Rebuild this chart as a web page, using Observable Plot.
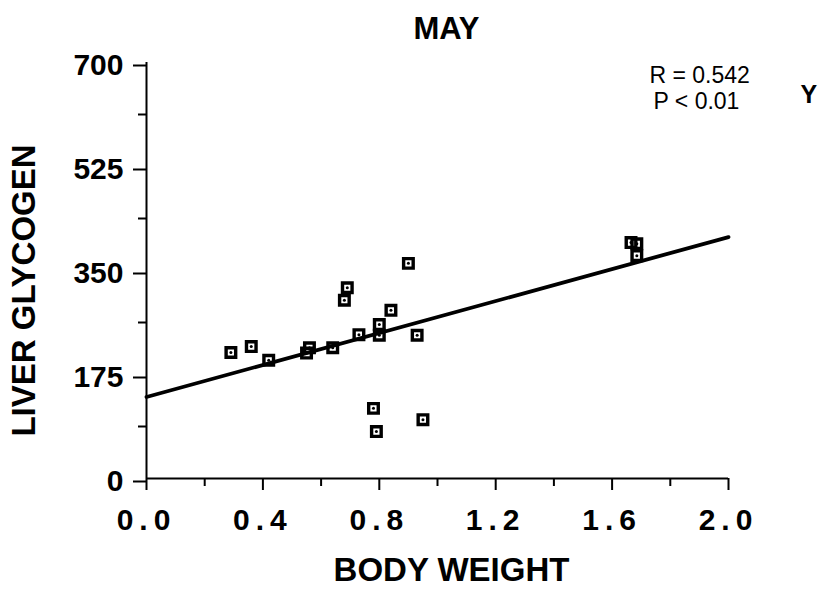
<!DOCTYPE html>
<html>
<head>
<meta charset="utf-8">
<script src="https://cdn.jsdelivr.net/npm/d3@7"></script>
<script src="https://cdn.jsdelivr.net/npm/@observablehq/plot@0.6"></script>
<style>
  html, body { margin: 0; padding: 0; background: #fff; }
  #chart { width: 823px; height: 590px; }
</style>
</head>
<body>
<div id="chart"></div>
<script>
// Body weight vs. liver glycogen, May sample
const bodyWeight    = [0.29, 0.36, 0.42, 0.56, 0.55, 0.64, 0.73, 0.80, 0.80, 0.84,
                       0.69, 0.68, 0.90, 0.93, 0.78, 0.79, 0.95, 1.665, 1.685, 1.685];
const liverGlycogen = [212, 222, 199, 220, 211, 220, 242, 259, 241, 283,
                       321, 300, 362, 241, 118, 79, 99, 397, 395, 375];

const xMajorTicks = [0, 0.4, 0.8, 1.2, 1.6, 2.0];
const xMinorTicks = [0.2, 0.6, 1.0, 1.4, 1.8];
const yMajorTicks = [0, 175, 350, 525, 700];
const yMinorTicks = [87.5, 262.5, 437.5, 612.5];

const xDomain = [0, 2];
const yDomain = [0, 700];

const title = "MAY";
const xTitle = "BODY WEIGHT";
const yTitle = "LIVER GLYCOGEN";
const statLines = ["R = 0.542", "P < 0.01"];
const panelTag = "Y";

const points = bodyWeight.map((x, i) => ({x, y: liverGlycogen[i]}));

// least-squares fit, drawn across the full x domain
const mx = d3.mean(bodyWeight);
const my = d3.mean(liverGlycogen);
const slope = d3.sum(bodyWeight, (v, i) => (v - mx) * (liverGlycogen[i] - my)) /
              d3.sum(bodyWeight, v => (v - mx) ** 2);
const fit = xDomain.map(x => ({x, y: my + slope * (x - mx)}));

const bold = {fontWeight: "bold", fill: "black"};

const chart = Plot.plot({
  width: 823,
  height: 590,
  marginLeft: 146,
  marginRight: 95,
  marginTop: 62,
  marginBottom: 112,
  x: {domain: xDomain},
  y: {domain: yDomain},
  style: {fontFamily: "'Liberation Sans', Arial, Helvetica, sans-serif", color: "black", background: "white", overflow: "visible"},
  marks: [
    // axis lines
    Plot.ruleX([0], {y1: 0, y2: 700, stroke: "black", strokeWidth: 2}),
    Plot.ruleY([0], {x1: 0, x2: 2, stroke: "black", strokeWidth: 2}),
    // ticks
    Plot.axisX({ticks: xMajorTicks, tickSize: 12, tickPadding: 18, tickFormat: d3.format(".1f"),
                fontSize: 30, ...bold, stroke: "black", strokeWidth: 2, label: null}),
    Plot.axisX({ticks: xMinorTicks, tickSize: 8, tickFormat: () => "", stroke: "black", strokeWidth: 2, label: null}),
    Plot.axisY({ticks: yMajorTicks, tickSize: 13, tickPadding: 10, dy: 3,
                fontSize: 30, ...bold, stroke: "black", strokeWidth: 2, label: null}),
    Plot.axisY({ticks: yMinorTicks, tickSize: 8, tickFormat: () => "", stroke: "black", strokeWidth: 2, label: null}),
    // regression line
    Plot.line(fit, {x: "x", y: "y", stroke: "black", strokeWidth: 3.8}),
    // open squares with a centre dot
    Plot.dot(points, {x: "x", y: "y", symbol: "square", r: 5.4, stroke: "black", strokeWidth: 3.4, fill: "none"}),
    Plot.dot(points, {x: "x", y: "y", r: 1.5, fill: "black", stroke: "none"}),
    // titles
    Plot.text([title], {frameAnchor: "top", dx: 9, dy: -24, lineAnchor: "bottom", fontSize: 31, ...bold}),
    Plot.text([xTitle], {frameAnchor: "bottom", dx: 14, dy: 102, lineAnchor: "bottom", fontSize: 33, ...bold}),
    Plot.text([yTitle], {frameAnchor: "left", dx: -122, dy: 20, rotate: -90, textAnchor: "middle", lineAnchor: "middle", fontSize: 33, ...bold}),
    // statistics and panel tag
    Plot.text([statLines[0]], {frameAnchor: "top-right", dx: -79, dy: 20, textAnchor: "start", lineAnchor: "bottom", fontSize: 23, fill: "black"}),
    Plot.text([statLines[1]], {frameAnchor: "top-right", dx: -75, dy: 46, textAnchor: "start", lineAnchor: "bottom", fontSize: 23, fill: "black"}),
    Plot.text([panelTag], {frameAnchor: "top-right", dx: 72, dy: 40, textAnchor: "start", lineAnchor: "bottom", fontSize: 25, ...bold})
  ]
});

// spaced-out digits on the x tick labels
d3.select(chart).selectAll('g[aria-label="x-axis tick label"]').attr("letter-spacing", "6px");

document.getElementById("chart").appendChild(chart);
</script>
</body>
</html>
